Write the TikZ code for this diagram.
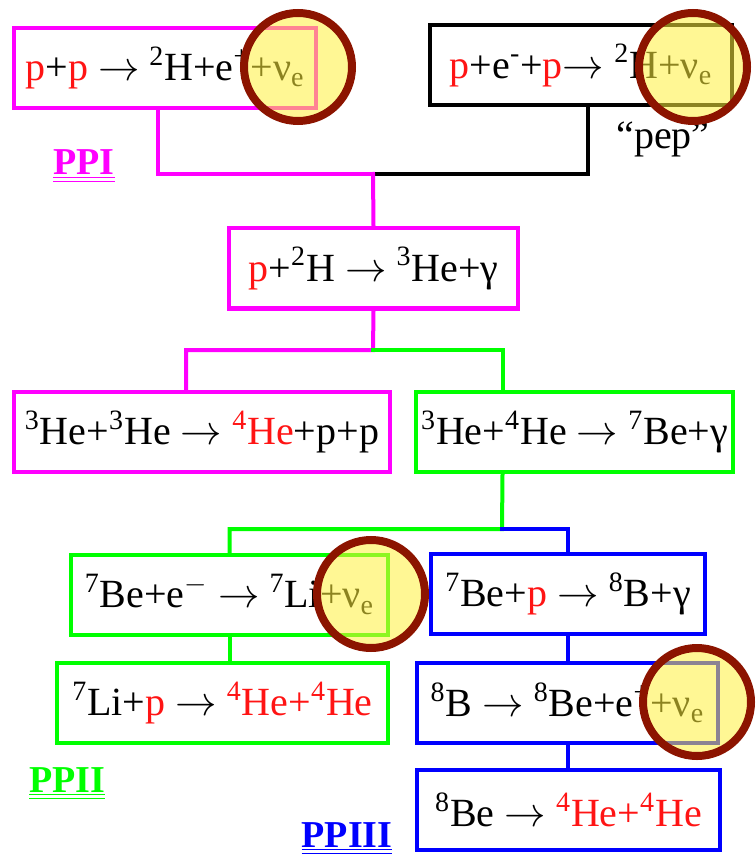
\documentclass[tikz,border=0pt]{standalone}
\usepackage{fontspec}
\setmainfont{Liberation Serif}
\usetikzlibrary{positioning,calc}
\definecolor{ppmag}{RGB}{255,0,255}
\definecolor{ppgreen}{RGB}{0,255,0}
\definecolor{ppblue}{RGB}{0,0,255}
\definecolor{nucred}{RGB}{255,20,20}
\definecolor{ringred}{RGB}{140,20,0}
\definecolor{ringfill}{RGB}{255,240,60}
\newcommand{\prot}{\textcolor{nucred}{p}}
\newcommand{\iso}[2]{\textsuperscript{#1}#2}
\newcommand{\nue}{ν\textsubscript{e}}

\begin{document}
\begin{tikzpicture}[x=0.5pt,y=-0.5pt,
   rxn/.style={rectangle,inner sep=0pt,minimum height=40pt,
     font=\fontsize{20}{24}\selectfont},
   ppone/.style={draw=ppmag,line width=2pt,line cap=rect},
   pptwo/.style={draw=ppgreen,line width=2pt,line cap=rect},
   ppthree/.style={draw=ppblue,line width=2pt,line cap=rect},
   peppath/.style={draw=black,line width=2pt,line cap=rect},
   chain/.style={font=\fontsize{19}{22}\selectfont\bfseries,inner sep=0pt,anchor=base},
   nuring/.style={circle,draw=ringred,line width=4pt,fill=ringfill,
     fill opacity=0.55,minimum size=54pt,inner sep=0pt}]
  \useasboundingbox (0,0) rectangle (755,855);

  % reaction boxes
  \node[rxn,ppone,minimum width=151pt] (ppA) at (165,68)
    {\prot+\prot{} $\rightarrow$ \iso{2}{H}+e\textsuperscript{+}+\nue};
  \node[rxn,peppath,minimum width=151pt] (pep) at (581,65.5)
    {\prot+e\textsuperscript{-}+\prot$\rightarrow$ \iso{2}{H}+\nue};
  \node[rxn,ppone,minimum width=144.5pt] (dH) at (373.5,268.5)
    {\prot+\iso{2}{H} $\rightarrow$ \iso{3}{He}+γ};
  \node[rxn,ppone,minimum width=188pt] (HeThree) at (202,432)
    {\iso{3}{He}+\iso{3}{He} $\rightarrow$ \textcolor{nucred}{\iso{4}{He}}+p+p};
  \node[rxn,pptwo,minimum width=158.5pt] (HeFour) at (574.5,432)
    {\iso{3}{He}+\iso{4}{He} $\rightarrow$ \iso{7}{Be}+γ};
  \node[rxn,pptwo,minimum width=158.5pt] (BeE) at (229.5,594.5)
    {\iso{7}{Be}+e\textsuperscript{$-$} $\rightarrow$ \iso{7}{Li}+\nue};
  \node[rxn,ppthree,minimum width=137pt] (BeP) at (568,594)
    {\iso{7}{Be}+\prot{} $\rightarrow$ \iso{8}{B}+γ};
  \node[rxn,pptwo,minimum width=165.5pt] (LiP) at (222.5,703)
    {\iso{7}{Li}+\prot{} $\rightarrow$ \textcolor{nucred}{\iso{4}{He}+\iso{4}{He}}};
  \node[rxn,ppthree,minimum width=150.5pt] (Bdecay) at (567.5,702.5)
    {\iso{8}{B} $\rightarrow$ \iso{8}{Be}+e\textsuperscript{+}+\nue};
  \node[rxn,ppthree,minimum width=151.5pt] (Bedecay) at (568.5,810)
    {\iso{8}{Be} $\rightarrow$ \textcolor{nucred}{\iso{4}{He}+\iso{4}{He}}};

  % chain labels
  \node[chain,text=ppmag] (lblI) at (84,175) {\underline{\underline{PPI}}};
  \node[chain,text=ppgreen] (lblII) at (67,792) {\underline{\underline{PPII}}};
  \node[chain,text=ppblue] (lblIII) at (347,847) {\underline{\underline{PPIII}}};
  \node[font=\fontsize{20}{24}\selectfont,inner sep=0pt,anchor=base] (lblpep)
    at (663,149) {“pep”};

  % branch points
  \coordinate (j1) at (373,174);
  \coordinate (j2) at (373,350);
  \coordinate (j3) at (502,529);

  \draw[ppone] ([xshift=-3.5pt]ppA.south) |- (j1);
  \draw[peppath] ([xshift=3.5pt]pep.south) |- (j1);
  \draw[ppone] (j1) -- (dH.north);
  \draw[ppone] (dH.south) -- (j2) -| ([xshift=-8pt]HeThree.north);
  \draw[pptwo] (j2) -| ([xshift=-36pt]HeFour.north);
  \draw[pptwo] ([xshift=-36pt]HeFour.south) -- (j3) -| (BeE.north);
  \draw[ppthree] (j3) -| (BeP.north);
  \draw[pptwo] (BeE.south) -- (BeE.south |- LiP.north);
  \draw[ppthree] (BeP.south) -- (BeP.south |- Bdecay.north);
  \draw[ppthree] (Bdecay.south) -- (Bdecay.south |- Bedecay.north);

  % neutrino markers
  \node[nuring] (nuA) at (298,67) {};
  \node[nuring] (nuB) at (693,67) {};
  \node[nuring] (nuC) at (371,594) {};
  \node[nuring] (nuD) at (697,702) {};
\end{tikzpicture}
\end{document}
